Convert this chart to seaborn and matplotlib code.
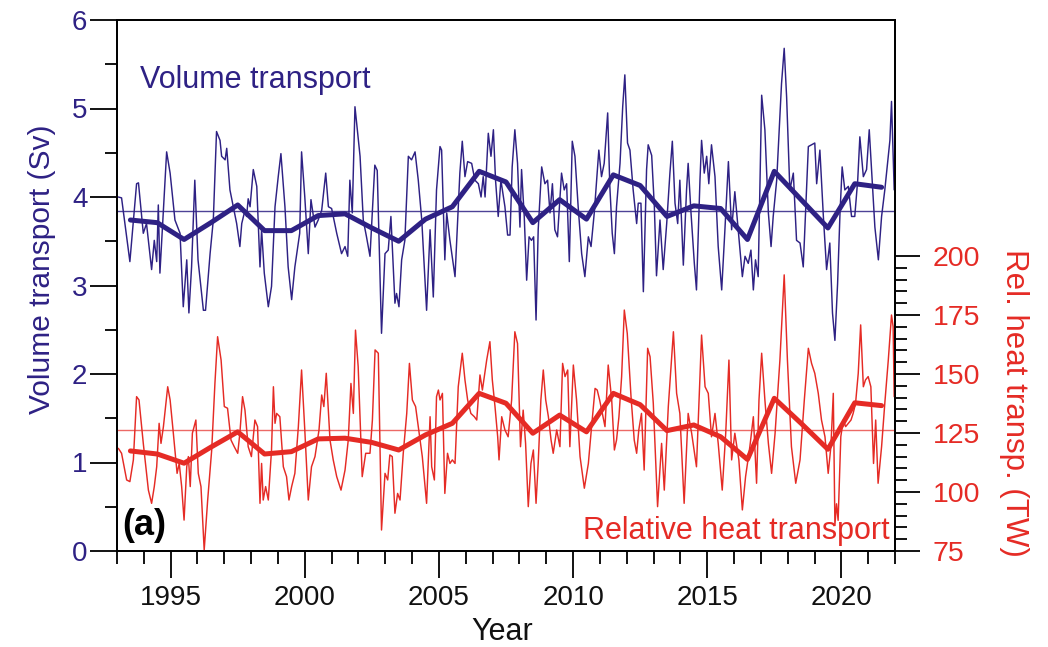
import numpy as np
import pandas as pd
import matplotlib
matplotlib.use("Agg")
import matplotlib.pyplot as plt
import seaborn as sns
from matplotlib.ticker import FixedLocator

# ---------------- data ----------------
vol_t = [1993.05, 1993.17, 1993.48, 1993.73, 1993.80, 1993.98, 1994.10, 1994.29, 1994.39, 1994.48,
         1994.54, 1994.60, 1994.85, 1994.98, 1995.16, 1995.35, 1995.47, 1995.60, 1995.68, 1995.78,
         1995.90, 1996.02, 1996.22, 1996.30, 1996.47, 1996.59, 1996.71, 1996.84, 1996.90, 1997.03,
         1997.09, 1997.21, 1997.46, 1997.58, 1997.65, 1997.77, 1997.83, 1997.89, 1997.96, 1998.08,
         1998.21, 1998.33, 1998.39, 1998.49, 1998.64, 1998.76, 1998.89, 1999.01, 1999.11, 1999.26,
         1999.38, 1999.51, 1999.63, 1999.81, 1999.88, 2000.00, 2000.13, 2000.23, 2000.38, 2000.50,
         2000.63, 2000.78, 2000.88, 2001.00, 2001.19, 2001.37, 2001.50, 2001.60, 2001.68, 2001.77,
         2001.87, 2002.06, 2002.18, 2002.30, 2002.43, 2002.61, 2002.70, 2002.86, 2002.99, 2003.11,
         2003.21, 2003.36, 2003.42, 2003.51, 2003.61, 2003.73, 2003.86, 2003.98, 2004.11, 2004.23,
         2004.36, 2004.54, 2004.67, 2004.79, 2004.91, 2005.04, 2005.10, 2005.22, 2005.29, 2005.41,
         2005.60, 2005.78, 2005.87, 2005.97, 2006.07, 2006.22, 2006.34, 2006.47, 2006.57, 2006.65,
         2006.72, 2006.84, 2006.94, 2007.03, 2007.11, 2007.21, 2007.31, 2007.46, 2007.56, 2007.65,
         2007.73, 2007.83, 2007.93, 2008.02, 2008.08, 2008.18, 2008.27, 2008.36, 2008.45, 2008.53,
         2008.62, 2008.70, 2008.83, 2008.95, 2009.05, 2009.14, 2009.23, 2009.32, 2009.42, 2009.57,
         2009.67, 2009.76, 2009.86, 2009.97, 2010.07, 2010.19, 2010.32, 2010.44, 2010.57, 2010.67,
         2010.79, 2010.88, 2010.96, 2011.06, 2011.16, 2011.29, 2011.37, 2011.46, 2011.54, 2011.62,
         2011.75, 2011.85, 2011.93, 2012.03, 2012.12, 2012.24, 2012.37, 2012.43, 2012.53, 2012.62,
         2012.74, 2012.80, 2012.93, 2013.03, 2013.11, 2013.24, 2013.36, 2013.49, 2013.61, 2013.70,
         2013.80, 2013.90, 2013.98, 2014.11, 2014.23, 2014.29, 2014.39, 2014.52, 2014.60, 2014.73,
         2014.79, 2014.89, 2014.98, 2015.06, 2015.16, 2015.29, 2015.41, 2015.54, 2015.66, 2015.79,
         2015.91, 2016.03, 2016.18, 2016.31, 2016.41, 2016.53, 2016.63, 2016.72, 2016.80, 2016.90,
         2017.03, 2017.15, 2017.28, 2017.38, 2017.46, 2017.59, 2017.77, 2017.87, 2017.96, 2018.08,
         2018.21, 2018.33, 2018.46, 2018.58, 2018.77, 2018.89, 2019.01, 2019.08, 2019.20, 2019.33,
         2019.45, 2019.57, 2019.67, 2019.76, 2019.86, 2019.95, 2020.03, 2020.13, 2020.26, 2020.38,
         2020.50, 2020.61, 2020.69, 2020.82, 2020.94, 2021.04, 2021.15, 2021.25, 2021.38, 2021.50,
         2021.62, 2021.72, 2021.81, 2021.87, 2021.93, 2021.97]
vol_sv = [4.00, 3.99, 3.27, 4.15, 4.16, 3.59, 3.70, 3.18, 3.51, 3.27,
          3.91, 3.14, 4.51, 4.27, 3.74, 3.59, 2.76, 3.29, 2.69, 3.21,
          4.19, 3.29, 2.72, 2.72, 3.36, 3.74, 4.74, 4.64, 4.46, 4.42,
          4.55, 4.08, 3.70, 3.44, 3.70, 3.85, 3.78, 3.98, 3.89, 4.31,
          4.12, 3.21, 3.63, 3.14, 2.76, 2.99, 3.89, 4.23, 4.49, 3.89,
          3.21, 2.84, 3.21, 3.59, 4.51, 4.00, 3.36, 3.97, 3.66, 3.74,
          3.85, 4.27, 3.89, 3.87, 3.59, 3.36, 3.44, 3.33, 4.19, 3.82,
          5.02, 4.46, 3.74, 3.55, 3.33, 4.36, 4.30, 2.46, 3.36, 3.40,
          3.78, 2.80, 2.91, 2.76, 3.29, 3.51, 4.46, 4.42, 4.51, 4.19,
          3.74, 2.72, 3.63, 2.87, 4.08, 4.57, 4.53, 3.29, 3.82, 3.51,
          3.10, 4.27, 4.63, 4.23, 4.40, 4.38, 4.19, 4.15, 4.00, 4.23,
          4.00, 4.72, 4.46, 4.76, 4.19, 3.78, 4.19, 3.89, 3.57, 3.57,
          4.34, 4.76, 4.38, 3.66, 4.31, 3.78, 3.06, 3.55, 3.51, 3.55,
          2.61, 3.63, 4.34, 4.15, 4.19, 3.82, 4.15, 3.63, 3.55, 4.27,
          4.08, 4.15, 3.27, 4.63, 4.46, 3.89, 3.36, 3.10, 3.55, 3.44,
          3.82, 4.19, 4.53, 4.23, 4.38, 4.95, 4.12, 3.59, 3.36, 3.89,
          4.38, 5.02, 5.38, 4.61, 4.53, 4.08, 3.70, 3.93, 3.93, 2.93,
          4.31, 4.59, 4.47, 3.89, 3.11, 3.74, 3.18, 3.70, 4.27, 4.63,
          3.93, 3.70, 4.19, 3.23, 4.08, 4.38, 3.85, 3.25, 2.95, 4.19,
          4.64, 4.27, 4.46, 4.15, 4.59, 4.23, 3.44, 2.95, 3.63, 4.40,
          3.63, 4.06, 3.55, 3.10, 3.33, 3.25, 3.40, 2.95, 3.29, 3.10,
          5.15, 4.76, 3.82, 3.44, 3.78, 4.19, 5.28, 5.68, 5.13, 4.08,
          4.27, 3.51, 3.48, 3.21, 4.57, 4.59, 4.61, 4.15, 4.53, 3.78,
          3.18, 3.48, 2.69, 2.38, 3.02, 3.82, 4.34, 4.08, 4.12, 3.78,
          3.78, 4.19, 4.68, 4.23, 4.31, 4.76, 4.19, 3.66, 3.29, 3.78,
          4.08, 4.38, 4.64, 5.08, 4.46, 4.08]

heat_t = [1993.05, 1993.17, 1993.36, 1993.48, 1993.61, 1993.73, 1993.82, 1993.98, 1994.17, 1994.29,
          1994.39, 1994.48, 1994.57, 1994.64, 1994.73, 1994.89, 1994.98, 1995.10, 1995.24, 1995.32,
          1995.41, 1995.50, 1995.60, 1995.66, 1995.73, 1995.81, 1995.94, 1996.03, 1996.13, 1996.25,
          1996.38, 1996.53, 1996.65, 1996.75, 1996.88, 1997.00, 1997.12, 1997.25, 1997.37, 1997.50,
          1997.58, 1997.68, 1997.77, 1997.89, 1998.01, 1998.14, 1998.24, 1998.33, 1998.39, 1998.45,
          1998.54, 1998.64, 1998.76, 1998.83, 1998.89, 1998.95, 1999.07, 1999.20, 1999.32, 1999.41,
          1999.51, 1999.63, 1999.76, 1999.88, 2000.00, 2000.13, 2000.25, 2000.38, 2000.53, 2000.63,
          2000.71, 2000.80, 2000.94, 2001.06, 2001.19, 2001.35, 2001.50, 2001.62, 2001.72, 2001.81,
          2001.89, 2001.99, 2002.14, 2002.27, 2002.43, 2002.52, 2002.62, 2002.74, 2002.86, 2002.99,
          2003.09, 2003.17, 2003.26, 2003.36, 2003.46, 2003.55, 2003.67, 2003.80, 2003.90, 2004.01,
          2004.13, 2004.23, 2004.38, 2004.54, 2004.67, 2004.73, 2004.83, 2004.91, 2004.98, 2005.04,
          2005.13, 2005.22, 2005.32, 2005.41, 2005.50, 2005.60, 2005.72, 2005.87, 2005.97, 2006.07,
          2006.19, 2006.32, 2006.41, 2006.53, 2006.62, 2006.78, 2006.90, 2006.99, 2007.09, 2007.19,
          2007.24, 2007.34, 2007.46, 2007.58, 2007.71, 2007.83, 2007.93, 2008.04, 2008.14, 2008.23,
          2008.33, 2008.43, 2008.52, 2008.62, 2008.70, 2008.80, 2008.89, 2008.98, 2009.08, 2009.18,
          2009.26, 2009.39, 2009.51, 2009.61, 2009.70, 2009.80, 2009.88, 2010.01, 2010.13, 2010.26,
          2010.42, 2010.57, 2010.69, 2010.82, 2010.90, 2010.99, 2011.19, 2011.31, 2011.44, 2011.54,
          2011.62, 2011.71, 2011.81, 2011.91, 2012.02, 2012.16, 2012.28, 2012.37, 2012.45, 2012.55,
          2012.65, 2012.78, 2012.87, 2012.99, 2013.15, 2013.30, 2013.40, 2013.55, 2013.74, 2013.86,
          2013.98, 2014.14, 2014.29, 2014.42, 2014.60, 2014.79, 2014.92, 2015.04, 2015.16, 2015.29,
          2015.41, 2015.56, 2015.69, 2015.81, 2015.91, 2016.03, 2016.18, 2016.31, 2016.43, 2016.59,
          2016.72, 2016.84, 2016.93, 2017.03, 2017.15, 2017.28, 2017.40, 2017.53, 2017.71, 2017.87,
          2017.99, 2018.14, 2018.30, 2018.46, 2018.62, 2018.77, 2018.89, 2019.01, 2019.14, 2019.26,
          2019.39, 2019.51, 2019.61, 2019.70, 2019.76, 2019.82, 2019.88, 2019.98, 2020.07, 2020.16,
          2020.26, 2020.36, 2020.44, 2020.53, 2020.63, 2020.72, 2020.82, 2020.90, 2021.00, 2021.10,
          2021.20, 2021.28, 2021.37, 2021.50, 2021.62, 2021.75, 2021.87, 2021.93, 2021.97]
heat_tw = [118.5, 116.4, 105.1, 104.4, 113.6, 140.4, 139.0, 120.6, 100.8, 95.2,
           102.3, 110.7, 129.1, 120.6, 127.7, 144.6, 139.0, 124.9, 107.9, 112.1,
           102.3, 88.1, 110.7, 115.0, 102.3, 124.9, 130.5, 107.9, 102.3, 75.4,
           96.6, 117.8, 146.0, 165.8, 155.9, 136.2, 135.5, 122.0, 119.2, 116.4,
           124.9, 140.4, 134.7, 119.2, 115.0, 130.5, 127.7, 95.2, 112.1, 96.6,
           102.3, 96.6, 117.8, 144.6, 129.1, 133.3, 131.9, 110.7, 106.5, 96.6,
           102.3, 107.9, 127.7, 151.7, 126.3, 96.6, 110.7, 115.0, 126.3, 141.1,
           136.2, 150.3, 122.0, 113.6, 106.5, 100.8, 109.3, 122.0, 146.0, 133.3,
           168.6, 153.1, 106.5, 116.4, 116.4, 130.5, 160.2, 158.8, 83.9, 107.9,
           105.1, 115.7, 115.0, 91.0, 99.4, 96.6, 116.4, 133.3, 154.5, 139.0,
           136.2, 127.7, 115.0, 95.2, 131.9, 110.7, 105.1, 140.4, 143.2, 139.0,
           141.8, 99.4, 116.4, 112.1, 113.6, 112.1, 144.6, 158.8, 147.5, 139.0,
           133.3, 131.9, 130.5, 149.6, 143.2, 155.9, 163.7, 147.5, 136.2, 123.4,
           113.6, 131.9, 126.3, 123.4, 139.0, 167.9, 162.9, 119.2, 134.7, 120.6,
           93.8, 112.1, 117.8, 95.2, 112.1, 139.0, 151.7, 139.0, 131.9, 122.0,
           116.4, 126.3, 119.2, 154.5, 148.9, 151.7, 119.2, 153.8, 139.0, 115.0,
           101.6, 112.1, 127.7, 143.9, 143.2, 139.0, 127.7, 153.8, 139.0, 117.8,
           122.0, 131.9, 148.9, 177.1, 167.2, 140.4, 122.0, 116.4, 126.3, 133.3,
           109.3, 160.9, 157.3, 137.6, 93.8, 120.6, 100.8, 136.2, 167.9, 141.8,
           133.3, 95.2, 133.3, 124.9, 110.7, 166.5, 144.6, 141.8, 123.4, 133.3,
           120.6, 100.8, 124.9, 155.9, 113.6, 124.9, 113.6, 92.4, 106.5, 119.2,
           131.9, 103.7, 139.0, 158.8, 139.0, 120.6, 107.9, 124.9, 155.9, 192.0,
           155.9, 119.2, 103.7, 113.6, 139.0, 160.9, 154.5, 150.3, 141.8, 130.5,
           123.4, 107.9, 119.2, 141.8, 86.0, 95.0, 88.0, 123.4, 130.5, 127.7,
           129.1, 130.5, 133.3, 137.6, 150.3, 170.8, 144.6, 147.5, 148.9, 144.6,
           112.1, 130.5, 103.7, 119.2, 137.6, 155.9, 175.0, 170.1, 140.4]

ann_years = list(range(1993, 2022))
vol_annual = [3.74, 3.71, 3.52, 3.71, 3.91, 3.62, 3.62, 3.79, 3.81, 3.65,
              3.50, 3.75, 3.89, 4.29, 4.17, 3.71, 3.97, 3.75, 4.25, 4.13,
              3.78, 3.90, 3.87, 3.52, 4.29, 3.97, 3.65, 4.15, 4.11]
heat_annual = [117.4, 116.1, 112.2, 119.0, 125.5, 116.1, 117.1, 122.5, 122.8, 121.0,
               117.8, 124.2, 129.1, 141.8, 137.6, 124.9, 132.6, 125.5, 141.8, 137.0,
               126.0, 128.4, 123.4, 113.8, 139.7, 129.1, 118.1, 137.8, 136.6]
vol_mean = 3.845
heat_mean = 126.4

x_ticks = [1995, 2000, 2005, 2010, 2015, 2020]
vol_ticks = [0, 1, 2, 3, 4, 5, 6]
heat_ticks = [75, 100, 125, 150, 175, 200]

# ---------------- style ----------------
BLUE = "#2e2184"
RED = "#e52b25"

sns.set_style("ticks")
plt.rcParams['font.family'] = ['Liberation Sans', 'DejaVu Sans']
plt.rcParams['axes.linewidth'] = 1.3

vol_df = pd.DataFrame({"t": vol_t, "v": vol_sv})
heat_df = pd.DataFrame({"t": heat_t, "v": heat_tw})
vol_ann = pd.DataFrame({"t": np.array(ann_years) + 0.5, "v": vol_annual})
heat_ann = pd.DataFrame({"t": np.array(ann_years) + 0.5, "v": heat_annual})

fig = plt.figure(figsize=(10.48, 6.47), dpi=100)
fig.patch.set_facecolor("white")
ax = fig.add_axes([117 / 1048, 1 - 551 / 647, (895 - 117) / 1048, (551 - 20) / 647])
ax2 = ax.twinx()

sns.lineplot(data=vol_df, x="t", y="v", ax=ax, color=BLUE, lw=1.05,
             estimator=None, sort=False, errorbar=None)
ax.axhline(vol_mean, color=BLUE, lw=1.0, alpha=0.85)
sns.lineplot(data=vol_ann, x="t", y="v", ax=ax, color=BLUE, lw=3.6,
             estimator=None, sort=False, errorbar=None)

sns.lineplot(data=heat_df, x="t", y="v", ax=ax2, color=RED, lw=1.05,
             estimator=None, sort=False, errorbar=None)
ax2.axhline(heat_mean, color=RED, lw=1.0, alpha=0.7)
sns.lineplot(data=heat_ann, x="t", y="v", ax=ax2, color=RED, lw=3.6,
             estimator=None, sort=False, errorbar=None)

ax.set_xlim(1993, 2022)
ax.set_ylim(0, 6)
ax2.set_ylim(75, 300)

# ticks
ax.set_xticks(x_ticks)
ax.xaxis.set_minor_locator(FixedLocator(list(range(1993, 2023))))
ax.set_yticks(vol_ticks)
ax.yaxis.set_minor_locator(FixedLocator(list(np.arange(0, 6.01, 0.5))))
ax2.set_yticks(heat_ticks)
ax2.yaxis.set_minor_locator(FixedLocator(list(range(75, 201, 5))))

ax.tick_params(axis="both", which="major", direction="out", length=19.3, width=1.3,
               labelsize=20, color="black")
ax.tick_params(axis="both", which="minor", direction="out", length=9, width=1.3, color="black")
ax.tick_params(axis="y", labelcolor=BLUE, pad=2)
ax.tick_params(axis="x", labelcolor="#111111", pad=5)
ax2.tick_params(axis="y", which="major", direction="out", length=18, width=1.3,
                labelsize=20.5, labelcolor=RED, color="black", pad=9)
ax2.tick_params(axis="y", which="minor", direction="out", length=8.6, width=1.3, color="black")

for a in (ax, ax2):
    for s in a.spines.values():
        s.set_visible(True)
        s.set_color("black")
        s.set_linewidth(1.3)

ax.set_xlabel("Year", fontsize=22, color="#111111", va="center", ha="center")
ax.xaxis.set_label_coords(0.495, -0.1525)
ax.set_ylabel("Volume transport (Sv)", fontsize=21.5, color=BLUE, va="center", ha="center")
ax.yaxis.set_label_coords(-0.096, 0.53)
ax2.set_ylabel("Rel. heat transp. (TW)", fontsize=22.5, color=RED, rotation=270,
               va="center", ha="center")
ax2.yaxis.set_label_coords(1.153, 0.279)

ax.text(1993.85, 5.32, "Volume transport", fontsize=22, color=BLUE, ha="left", va="center")
ax.text(2021.8, 0.23, "Relative heat transport", fontsize=22, color=RED, ha="right", va="center")
ax.text(1993.18, 0.29, "(a)", fontsize=26, fontweight="bold", color="black", ha="left", va="center")

fig.savefig("out.png", dpi=100, facecolor="white")
